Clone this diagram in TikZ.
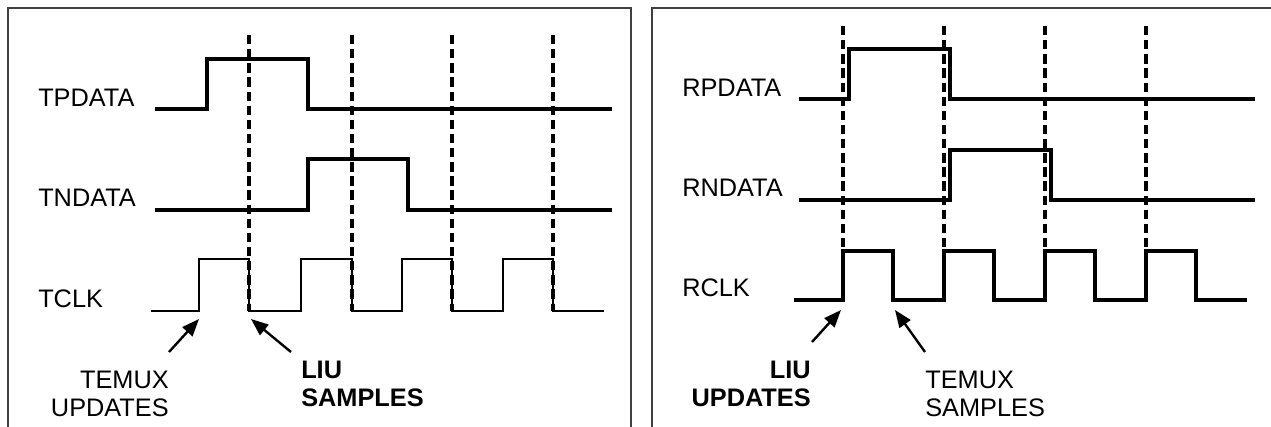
\documentclass[tikz,border=0pt]{standalone}
\usepackage{fontspec}
\setmainfont{Liberation Sans}
\usetikzlibrary{arrows.meta}
\begin{document}
\begin{tikzpicture}[x=0.75pt, y=-0.75pt, >={Triangle[length=13pt, width=10pt]},
  sig/.style={line width=2.4pt},
  thinsig/.style={line width=1.6pt},
  grid/.style={line width=2.3pt, dash pattern=on 7pt off 3.6pt},
  frame/.style={line width=1.6pt, black!75},
  lbl/.style={inner sep=0pt, font=\fontsize{19pt}{20.5pt}\selectfont}]

  \useasboundingbox (0,0) rectangle (1271,427);

  % Kaders
  \draw[frame] (8,427) -- (8,8) -- (631,8) -- (631,427);
  \draw[frame] (652,427) -- (652,8) -- (1271,8);

  % Zendzijde: stippellijnen
  \draw[grid] (249,35) -- (249,311);
  \draw[grid] (352,35) -- (352,311);
  \draw[grid] (452,35) -- (452,311);
  \draw[grid] (553,35) -- (553,311);

  % TPDATA
  \node[lbl, anchor=west] (tp) at (38,98) {TPDATA};
  \draw[sig] (155,109) -- (207,109) -- (207,59) -- (308,59) -- (308,109) -- (612,109);

  % TNDATA
  \node[lbl, anchor=west] (tn) at (38,198) {TNDATA};
  \draw[sig] (155,210) -- (308,210) -- (308,159) -- (408,159) -- (408,210) -- (612,210);

  % TCLK
  \node[lbl, anchor=west] (tc) at (38,299) {TCLK};
  \draw[thinsig] (151,311) -- (199,311) -- (199,259) -- (249,259) -- (249,311)
    -- (301,311) -- (301,259) -- (352,259) -- (352,311)
    -- (402,311) -- (402,259) -- (452,259) -- (452,311)
    -- (503,311) -- (503,259) -- (553,259) -- (553,311) -- (604,311);

  % TEMUX updates
  \node[lbl, anchor=east, align=right] (tu) at (169,394) {TEMUX\\UPDATES};
  \coordinate (tu tail) at (169,352);
  \coordinate (tu tip) at (199,319);
  \draw[->, line width=1.8pt] (tu tail) -- (tu tip);

  % LIU samples
  \node[lbl, anchor=west, align=left, font=\fontsize{19pt}{21pt}\selectfont\bfseries] (ls) at (301,384) {LIU\\SAMPLES};
  \coordinate (ls tail) at (291,352);
  \coordinate (ls tip) at (251,319);
  \draw[->, line width=1.8pt] (ls tail) -- (ls tip);

  % Ontvangzijde: stippellijnen
  \draw[grid] (843,26) -- (843,251);
  \draw[grid] (944,26) -- (944,251);
  \draw[grid] (1045,26) -- (1045,251);
  \draw[grid] (1146,26) -- (1146,251);

  % RPDATA
  \node[lbl, anchor=west] (rp) at (682,88) {RPDATA};
  \draw[sig] (799,99) -- (849,99) -- (849,49) -- (950,49) -- (950,99) -- (1255,99);

  % RNDATA
  \node[lbl, anchor=west] (rn) at (682,188) {RNDATA};
  \draw[sig] (799,200) -- (950,200) -- (950,150) -- (1051,150) -- (1051,200) -- (1255,200);

  % RCLK
  \node[lbl, anchor=west] (rc) at (682,288) {RCLK};
  \draw[sig] (794,300) -- (843,300) -- (843,251) -- (893,251) -- (893,300)
    -- (944,300) -- (944,251) -- (994,251) -- (994,300)
    -- (1045,300) -- (1045,251) -- (1095,251) -- (1095,300)
    -- (1146,300) -- (1146,251) -- (1196,251) -- (1196,300) -- (1247,300);

  % LIU updates
  \node[lbl, anchor=east, align=right, font=\fontsize{19pt}{21pt}\selectfont\bfseries] (lu) at (811,384) {LIU\\UPDATES};
  \coordinate (lu tail) at (812,342);
  \coordinate (lu tip) at (841,310);
  \draw[->, line width=1.8pt] (lu tail) -- (lu tip);

  % TEMUX samples
  \node[lbl, anchor=west, align=left] (ts) at (925,394) {TEMUX\\SAMPLES};
  \coordinate (ts tail) at (925,352);
  \coordinate (ts tip) at (895,310);
  \draw[->, line width=1.8pt] (ts tail) -- (ts tip);

\end{tikzpicture}
\end{document}
